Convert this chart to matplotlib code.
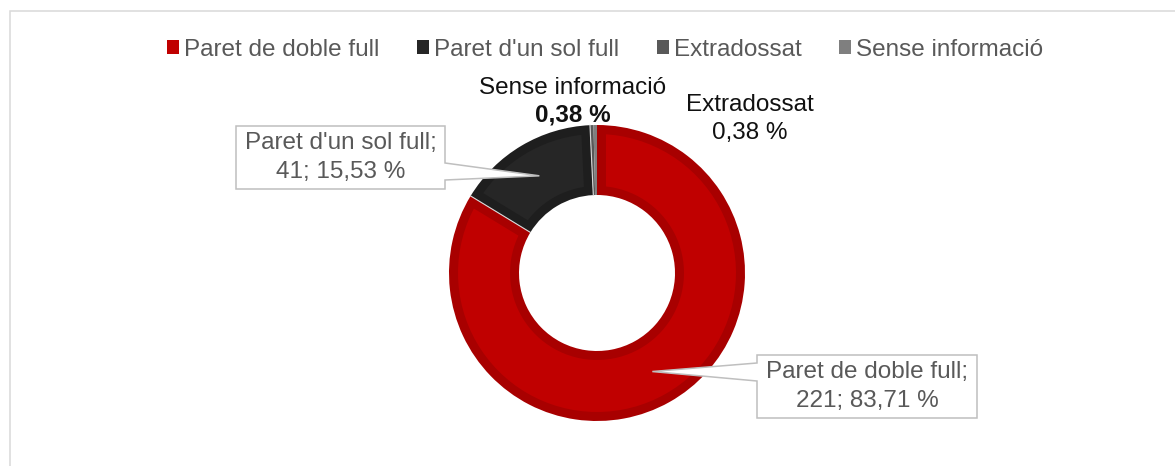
import numpy as np
import matplotlib
matplotlib.use('Agg')
import matplotlib.pyplot as plt
from matplotlib.patches import Patch, Rectangle, Polygon

plt.rcParams['font.family'] = ['Liberation Sans', 'DejaVu Sans']

# dades
labels = ['Paret de doble full', "Paret d'un sol full", 'Extradossat', 'Sense informació']
values = [221, 41, 1, 1]
colors = ['#C00000', '#262626', '#595959', '#7F7F7F']
band_colors = ['#A80000', '#1E1E1E', '#595959', '#7F7F7F']

W, H = 1175, 466
fig = plt.figure(figsize=(W / 100, H / 100), dpi=100)
ax = fig.add_axes([0, 0, 1, 1])

cx, cy = 597, H - 273
R, ring = 148, 70
band = 9

# anell base amb el color de la vora
wedges, _ = ax.pie(values, colors=band_colors, startangle=90, counterclock=False,
                   radius=R, center=(cx, cy),
                   wedgeprops=dict(width=ring, linewidth=0))


def inset_poly(w, d):
    """porcio reduida d pixels cap a dins (efecte bisell)"""
    ro, ri = w.r - d, w.r - w.width + d
    t1, t2 = np.deg2rad(w.theta1), np.deg2rad(w.theta2)
    a_o, a_i = np.arcsin(d / ro), np.arcsin(d / ri)
    if t2 - t1 - 2 * a_i <= 0:
        return None
    th_o = np.linspace(t1 + a_o, t2 - a_o, 80)
    th_i = np.linspace(t2 - a_i, t1 + a_i, 80)
    xs = np.r_[cx + ro * np.cos(th_o), cx + ri * np.cos(th_i)]
    ys = np.r_[cy + ro * np.sin(th_o), cy + ri * np.sin(th_i)]
    return np.c_[xs, ys]


for w, c in zip(wedges, colors):
    pts = inset_poly(w, band)
    if pts is not None:
        ax.add_patch(Polygon(pts, closed=True, facecolor=c, edgecolor='none', zorder=2))

# separadors entre porcions grans
for w in wedges[:2]:
    a = np.deg2rad(w.theta1)
    ax.plot([cx + (R - ring) * np.cos(a), cx + R * np.cos(a)],
            [cy + (R - ring) * np.sin(a), cy + R * np.sin(a)],
            color='#D9D9D9', lw=0.8, zorder=3)

ax.set_aspect('equal')
ax.set_xlim(0, W)
ax.set_ylim(0, H)
ax.axis('off')

total = sum(values)
pcts = [v / total * 100 for v in values]
fmt = lambda p: f"{p:.2f}".replace('.', ',') + ' %'


def tip_of(w):
    ang = np.deg2rad((w.theta1 + w.theta2) / 2)
    rr = w.r - w.width / 2
    return (w.center[0] + rr * np.cos(ang), w.center[1] + rr * np.sin(ang))


box_col = '#BFBFBF'
lab_col = '#595959'

# etiqueta: Paret d'un sol full
tx, ty = tip_of(wedges[1])
l, r_, t, b = 236, 445, H - 126, H - 189
poly = [(l, t), (r_, t), (r_, H - 163), (tx, ty), (r_, H - 180), (r_, b), (l, b)]
ax.add_patch(Polygon(poly, closed=True, facecolor='white', edgecolor=box_col, lw=1.1, zorder=5))
ax.text((l + r_) / 2, (t + b) / 2, f"{labels[1]};\n{values[1]}; {fmt(pcts[1])}",
        ha='center', va='center', fontsize=17.5, color=lab_col, linespacing=1.38, zorder=6)

# etiqueta: Paret de doble full
tx, ty = tip_of(wedges[0])
l, r_, t, b = 757, 977, H - 355, H - 418
poly = [(l, t), (r_, t), (r_, b), (l, b), (l, H - 381), (tx, ty), (l, H - 363)]
ax.add_patch(Polygon(poly, closed=True, facecolor='white', edgecolor=box_col, lw=1.1, zorder=5))
ax.text((l + r_) / 2, (t + b) / 2, f"{labels[0]};\n{values[0]}; {fmt(pcts[0])}",
        ha='center', va='center', fontsize=17.5, color=lab_col, linespacing=1.38, zorder=6)

# etiquetes petites
ax.text(573, H - 88, labels[3], ha='center', va='center', fontsize=17.5, color='#111111')
ax.text(573, H - 115, fmt(pcts[3]), ha='center', va='center', fontsize=17.5,
        color='#111111', fontweight='bold')
ax.text(750, H - 105, labels[2], ha='center', va='center', fontsize=17.5, color='#111111')
ax.text(750, H - 133, fmt(pcts[2]), ha='center', va='center', fontsize=17.5, color='#111111')

# llegenda
handles = [Patch(facecolor=c, edgecolor='none') for c in colors]
fig.legend(handles, labels, loc='center', bbox_to_anchor=(605 / W, 1 - 50 / H), ncol=4,
           frameon=False, fontsize=17.5, labelcolor=lab_col, handlelength=0.5,
           handleheight=0.5, handletextpad=0.2, columnspacing=1.55)

# marc
fig.add_artist(Rectangle((9.5 / W, -0.05), 1.2, (H - 10.5) / H + 0.05, transform=fig.transFigure,
                         fill=False, edgecolor='#D9D9D9', lw=1.1))

fig.savefig('out.png', dpi=100)
